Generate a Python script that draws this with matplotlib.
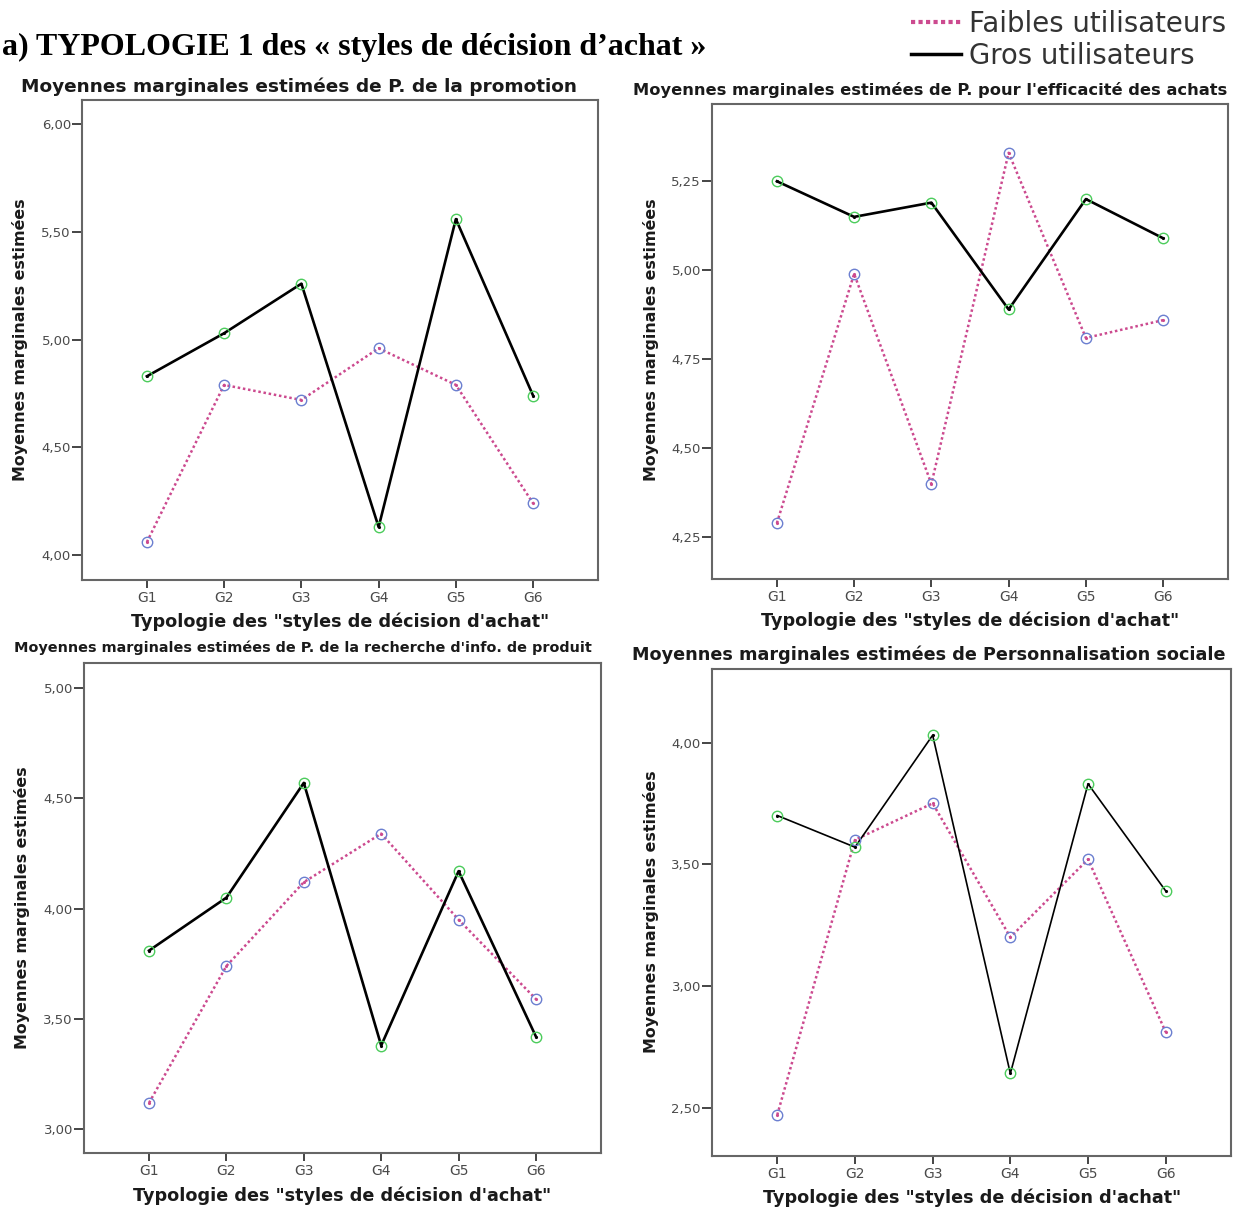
import matplotlib
matplotlib.use('Agg')
import matplotlib.pyplot as plt
from matplotlib.lines import Line2D
from matplotlib.ticker import FuncFormatter

# data (estimated marginal means)
groups = ['G1', 'G2', 'G3', 'G4', 'G5', 'G6']

promo_faibles = [4.06, 4.79, 4.72, 4.96, 4.79, 4.24]
promo_gros = [4.83, 5.03, 5.26, 4.13, 5.56, 4.74]

effic_faibles = [4.29, 4.99, 4.40, 5.33, 4.81, 4.86]
effic_gros = [5.25, 5.15, 5.19, 4.89, 5.20, 5.09]

info_faibles = [3.12, 3.74, 4.12, 4.34, 3.95, 3.59]
info_gros = [3.81, 4.05, 4.57, 3.38, 4.17, 3.42]

social_faibles = [2.47, 3.60, 3.75, 3.20, 3.52, 2.81]
social_gros = [3.70, 3.57, 4.03, 2.64, 3.83, 3.39]

titles = ["Moyennes marginales estimées de P. de la promotion",
          "Moyennes marginales estimées de P. pour l'efficacité des achats",
          "Moyennes marginales estimées de P. de la recherche d'info. de produit",
          "Moyennes marginales estimées de Personnalisation sociale"]
xlabel = 'Typologie des "styles de décision d\'achat"'
ylabel = "Moyennes marginales estimées"

W, H = 1239, 1209
PINK = '#cc4a8f'
GREEN = '#4ccc5c'
BLUE = '#6b7fd0'

def box(x0, y0, x1, y1):  # pixel box -> figure fraction
    return [x0 / W, 1 - y1 / H, (x1 - x0) / W, (y1 - y0) / H]

fig = plt.figure(figsize=(W / 100, H / 100), dpi=100)
fig.patch.set_facecolor('white')

panels = [
    # (box, faibles, gros, ylim, yticks, title pos, title size, xlabel pos, ylabel pos, black lw)
    (box(82, 100, 598, 580), promo_faibles, promo_gros, (3.884, 6.113), [4, 4.5, 5, 5.5, 6],
     (299, 87), 13.3, (340, 622), (20, 340), 1.9),
    (box(712, 104, 1228, 579), effic_faibles, effic_gros, (4.133, 5.467), [4.25, 4.5, 4.75, 5, 5.25],
     (930, 90), 11.7, (970, 621), (651, 340), 1.9),
    (box(84, 663, 601, 1153), info_faibles, info_gros, (2.893, 5.113), [3, 3.5, 4, 4.5, 5],
     (303, 648), 10.4, (342, 1196), (22, 908), 1.9),
    (box(712, 669, 1231, 1156), social_faibles, social_gros, (2.301, 4.302), [2.5, 3, 3.5, 4],
     (929, 655), 12.7, (972, 1198), (651, 912), 1.2),
]

comma = FuncFormatter(lambda v, p: f"{v:.2f}".replace('.', ','))

for i, (rect, faibles, gros, ylim, yticks, tpos, tsize, xpos, ypos, blw) in enumerate(panels):
    ax = fig.add_axes(rect)
    x = list(range(1, len(groups) + 1))
    ax.plot(x, faibles, color=PINK, lw=1.8, ls=(0, (1, 1.1)), zorder=2)
    ax.plot(x, gros, color='black', lw=blw, zorder=3)
    ax.plot(x, faibles, ls='none', marker='o', ms=7.5, mfc='none', mec=BLUE, mew=1.0, zorder=4)
    ax.plot(x, gros, ls='none', marker='o', ms=7.5, mfc='none', mec=GREEN, mew=1.0, zorder=4)
    ax.plot(x, gros, ls='none', marker='.', ms=2.5, color='black', zorder=5)
    ax.plot(x, faibles, ls='none', marker='.', ms=2.5, color=PINK, zorder=5)

    ax.set_xlim(0.16, 6.84)
    ax.set_ylim(*ylim)
    ax.set_xticks(x)
    ax.set_xticklabels(groups)
    ax.set_yticks(yticks)
    ax.yaxis.set_major_formatter(comma)
    ax.tick_params(axis='y', direction='out', length=7, width=1.4, color='#444444',
                   labelsize=9.5, labelcolor='#4a4a4a', pad=1)
    ax.tick_params(axis='x', direction='out', length=6, width=1.4, color='#444444',
                   labelsize=10, labelcolor='#4a4a4a', pad=2)
    ax.tick_params(top=False, right=False)
    for s in ax.spines.values():
        s.set_color('#666666')
        s.set_linewidth(1.5)

    fig.text(tpos[0] / W, 1 - tpos[1] / H, titles[i], ha='center', va='center',
             fontsize=tsize, fontweight='bold', color='#1a1a1a')
    fig.text(xpos[0] / W, 1 - xpos[1] / H, xlabel, ha='center', va='center',
             fontsize=12.7, fontweight='bold', color='#1a1a1a')
    fig.text(ypos[0] / W, 1 - ypos[1] / H, ylabel, ha='center', va='center', rotation=90,
             fontsize=11.4, fontweight='bold', color='#1a1a1a')

# heading
fig.text(2 / W, 1 - 47 / H, "a) TYPOLOGIE 1 des « styles de décision d’achat »",
         ha='left', va='center', fontsize=23, fontweight='bold',
         family='Liberation Serif', color='black')

# legend at the top right
handles = [Line2D([], [], color=PINK, lw=3, ls=(0, (1, 0.8))),
           Line2D([], [], color='black', lw=2.5)]
fig.legend(handles, ['Faibles utilisateurs', 'Gros utilisateurs'],
           loc='upper right', bbox_to_anchor=(1240 / W, 1 + 4 / H), frameon=False,
           fontsize=19.8, labelcolor='#333333', handlelength=1.8, handletextpad=0.3,
           labelspacing=0.15, borderpad=0.0)

fig.savefig('out.png', dpi=100)
